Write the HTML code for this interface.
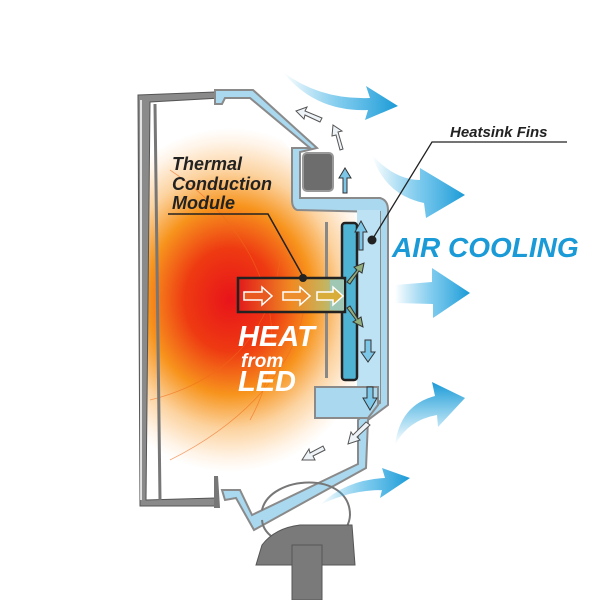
<!DOCTYPE html>
<html><head><meta charset="utf-8"><style>
html,body{margin:0;padding:0;background:#fff}
svg{display:block}
text{font-family:"Liberation Sans",Arial,sans-serif;font-weight:bold;font-style:italic}
</style></head><body>
<svg width="600" height="600" viewBox="0 0 600 600" xmlns="http://www.w3.org/2000/svg">
<defs>
<radialGradient id="heat" cx="0" cy="0" r="1" gradientUnits="userSpaceOnUse" gradientTransform="translate(230 300) scale(150 172)">
<stop offset="0" stop-color="#e8141a"/>
<stop offset="0.3" stop-color="#ee3a12"/>
<stop offset="0.55" stop-color="#f7941d"/>
<stop offset="0.75" stop-color="#fcd3a0"/>
<stop offset="0.92" stop-color="#fff4e8"/>
<stop offset="1" stop-color="#ffffff"/>
</radialGradient>
<linearGradient id="tm" x1="0" x2="1" y1="0" y2="0">
<stop offset="0" stop-color="#e21b1b"/>
<stop offset="0.5" stop-color="#f08a22"/>
<stop offset="0.8" stop-color="#c8b25a"/>
<stop offset="1" stop-color="#8fc7b9"/>
</linearGradient>
<linearGradient id="bl" x1="0" x2="1">
<stop offset="0" stop-color="#29a8e0" stop-opacity="0"/>
<stop offset="0.5" stop-color="#46b4e6" stop-opacity="0.7"/>
<stop offset="1" stop-color="#1a9ad6"/>
</linearGradient>
<linearGradient id="blv" x1="0" x2="0" y1="1" y2="0">
<stop offset="0" stop-color="#29a8e0" stop-opacity="0"/>
<stop offset="1" stop-color="#1a9ad6"/>
</linearGradient>
<clipPath id="inside"><path d="M146 98 L215 96 L228 110 L255 110 L300 160 L300 205 L385 205 L385 410 L364 420 L362 467 L250 520 L222 498 L146 500 Z"/></clipPath>
</defs>

<rect x="140" y="90" width="250" height="430" fill="url(#heat)" clip-path="url(#inside)"/>
<g clip-path="url(#inside)" fill="none" stroke="#f06a1a" stroke-width="0.8" opacity="0.6">
<path d="M170 170 C260 230 300 330 250 420"/>
<path d="M150 400 C230 380 270 330 280 260"/>
<path d="M170 460 C250 420 300 360 305 300"/>
</g>

<path d="M138 95 L215 92 L220 98 L150 102 L146 500 L215 498 L218 506 L140 506 Z" fill="#8a8a8a" stroke="#555" stroke-width="1"/>
<path d="M141 100 L141 500" stroke="#fff" stroke-width="1.5"/>
<path d="M155 104 L160 500" stroke="#777" stroke-width="3" fill="none"/>
<path d="M214 476 L218 476 L220 508 L214 508 Z" fill="#777"/>

<path d="M215 90 L253 90 L317 148 L300 152 L300 198 L380 198 Q388 200 388 210 L388 405 L368 420 L366 468 L254 530 L236 498 L225 500 L222 490 L240 490 L252 515 L358 464 L358 420 L370 408 L380 403 L380 212 L297 210 Q292 208 292 200 L292 148 L310 148 L250 98 L225 98 L222 104 L215 104 Z" fill="#a9d8ef" stroke="#8a8a8a" stroke-width="2"/>
<path d="M357 210 L380 210 L380 400 L360 410 L357 410 Z" fill="#bde2f3"/>
<path d="M315 387 L378 387 L378 405 L368 418 L315 418 Z" fill="#a9d8ef" stroke="#8a8a8a" stroke-width="2"/>
<rect x="303" y="153" width="30" height="38" rx="4" fill="#6d6d6d" stroke="#999" stroke-width="2"/>
<rect x="325" y="222" width="3" height="156" fill="#888"/>
<rect x="342" y="223" width="15" height="157" rx="3" fill="#4fb3d4" stroke="#222" stroke-width="2.5"/>
<path d="M238 278 L345 278 L345 312 L238 312 Z" fill="url(#tm)" stroke="#222" stroke-width="2.5"/>
<rect x="330" y="280" width="14" height="30" fill="#9fc7b3"/>

<g fill="none" stroke="#fff" stroke-width="1.5">
<path d="M244 292 L262 292 L262 287 L272 296 L262 305 L262 300 L244 300 Z" fill="#e85a20"/>
<path d="M283 292 L300 292 L300 287 L310 296 L300 305 L300 300 L283 300 Z" fill="#ec8d2e"/>
<path d="M317 292 L333 292 L333 287 L343 296 L333 305 L333 300 L317 300 Z" fill="#d9ad3a"/>
</g>
<path d="M347 282 L357 270 L354 267 L364 263 L362 273 L359 271 L350 284 Z" fill="#92ae7c" stroke="#333" stroke-width="1"/>
<path d="M347 308 L356 320 L353 322 L363 327 L361 317 L358 319 L350 306 Z" fill="#92ae7c" stroke="#333" stroke-width="1"/>
<g fill="#7cc6e8" stroke="#333" stroke-width="1">
<path d="M359 250 L359 232 L355 232 L361 221 L367 232 L363 232 L363 250 Z"/>
<path d="M365 340 L371 340 L371 352 L375 352 L368 362 L361 352 L365 352 Z"/>
<path d="M367 387 L373 387 L373 398 L377 398 L370 410 L363 398 L367 398 Z"/>
<path d="M343 193 L343 178 L339 178 L345 168 L351 178 L347 178 L347 193 Z"/>
</g>
<g fill="#eef3f7" stroke="#555" stroke-width="1">
<path d="M340 150 L336 135 L332 136 L333 125 L342 131 L338 132 L343 149 Z"/>
<path d="M320 122 L305 115 L304 119 L296 111 L307 107 L305 111 L322 118 Z"/>
<path d="M370 425 L357 437 L360 440 L348 444 L351 432 L353 435 L366 422 Z"/>
<path d="M325 450 L313 456 L315 460 L302 460 L309 449 L310 453 L323 446 Z"/>
</g>

<path d="M262 510 C270 475 350 470 350 515 C348 555 265 555 262 520" fill="none" stroke="#777" stroke-width="2"/>
<path d="M256 565 L262 545 Q275 528 300 525 L352 525 L355 565 Z" fill="#7a7a7a" stroke="#555" stroke-width="1"/>
<rect x="292" y="545" width="30" height="55" fill="#7a7a7a" stroke="#555" stroke-width="1"/>

<path d="M283 72 Q320 100 370 98 L366 86 L398 106 L365 120 L368 110 Q315 112 283 72 Z" fill="url(#bl)"/>
<path d="M372 155 Q395 180 420 180 L420 168 L465 195 L426 218 L424 203 Q385 195 372 155 Z" fill="url(#bl)"/>
<path d="M395 285 L432 282 L432 268 L470 293 L433 318 L433 304 L395 303 Z" fill="url(#bl)"/>
<path d="M395 445 Q400 405 435 396 L432 382 L465 398 L438 427 L437 415 Q408 420 395 445 Z" fill="url(#blv)"/>
<path d="M320 505 Q345 480 385 478 L382 468 L410 478 L380 498 L382 490 Q350 490 320 505 Z" fill="url(#bl)"/>

<text x="172" y="170" font-size="18" fill="#222">Thermal</text>
<text x="172" y="190" font-size="18" fill="#222">Conduction</text>
<text x="172" y="209" font-size="18" fill="#222">Module</text>
<path d="M168 214 L268 214 L304 278" fill="none" stroke="#222" stroke-width="1.5"/>
<circle cx="303" cy="278" r="4" fill="#222"/>

<text x="450" y="137" font-size="15" fill="#222">Heatsink Fins</text>
<path d="M567 142 L432 142 L372 240" fill="none" stroke="#222" stroke-width="1.3"/>
<circle cx="372" cy="240" r="4.5" fill="#222"/>

<text x="392" y="257" font-size="28" fill="#1a9ad6">AIR COOLING</text>

<text x="238" y="346" font-size="29" fill="#fff">HEAT</text>
<text x="241" y="367" font-size="19" fill="#fff" font-weight="normal">from</text>
<text x="238" y="391" font-size="29" fill="#fff">LED</text>
</svg>
</body></html>
